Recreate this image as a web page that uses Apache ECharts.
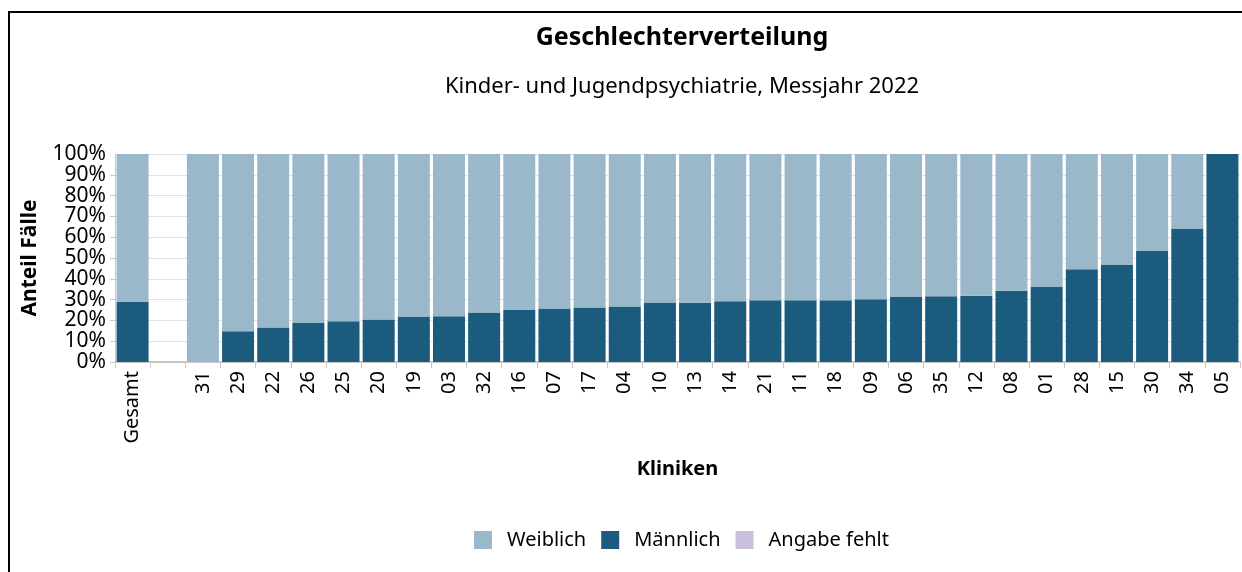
<!DOCTYPE html>
<html>
<head>
<meta charset="utf-8">
<script src="https://cdn.jsdelivr.net/npm/echarts@6/dist/echarts.min.js"></script>
<style>
html,body{margin:0;padding:0;background:#fff;}
#chart{width:1242px;height:572px;}
</style>
</head>
<body>
<div id="chart"></div>
<script>
const categories = ['Gesamt','','31','29','22','26','25','20','19','03','32','16','07','17','04','10','13','14','21','11','18','09','06','35','12','08','01','28','15','30','34','05'];
const maennlich = [28.9,null,0,14.8,16.6,18.8,19.6,20.4,21.9,22.0,23.8,25.0,25.7,26.2,26.7,28.6,28.5,29.2,29.7,29.7,29.7,30.2,31.2,31.6,31.8,34.2,36.0,44.6,46.6,53.4,64.2,100];
const weiblich  = [71.1,null,100,85.2,83.4,81.2,80.4,79.6,78.1,78.0,76.2,75.0,74.3,73.8,73.3,71.4,71.5,70.8,70.3,70.3,70.3,69.8,68.8,68.4,68.2,65.8,64.0,55.4,53.4,46.6,35.8,0];
const angabeFehlt = [0,null,0,0,0,0,0,0,0,0,0,0,0,0,0,0,0,0,0,0,0,0,0,0,0,0,0,0,0,0,0,0];
const yTicks = [0,10,20,30,40,50,60,70,80,90,100];
const yMax = 100;

const FONT = '"Noto Sans", "Open Sans", sans-serif';
const chart = echarts.init(document.getElementById('chart'), null, {renderer:'canvas'});
chart.setOption({
  animation:false,
  textStyle:{fontFamily:FONT},
  title:[
    {text:'Geschlechterverteilung', left:677, top:20, textAlign:'center',
     textStyle:{fontFamily:FONT,fontSize:25,fontWeight:'bold',color:'#000'}},
    {text:'Kinder- und Jugendpsychiatrie, Messjahr 2022', left:677, top:71, textAlign:'center',
     textStyle:{fontFamily:FONT,fontSize:22,fontWeight:'normal',color:'#000'}}
  ],
  legend:{
    bottom:17, left:469,
    itemWidth:18, itemHeight:18, itemGap:15,
    icon:'rect',
    textStyle:{fontFamily:FONT,fontSize:20,color:'#000',padding:[0,0,0,10]},
    data:['Weiblich','Männlich','Angabe fehlt']
  },
  grid:{left:115,right:2,top:154,bottom:210,containLabel:false},
  xAxis:{
    type:'category', data:categories,
    name:'Kliniken', nameLocation:'middle', nameGap:97,
    nameTextStyle:{fontFamily:FONT,fontSize:20,fontWeight:'bold',color:'#000'},
    axisLine:{lineStyle:{color:'#c8c8c8',width:2}},
    axisTick:{show:true,alignWithLabel:false,length:6,lineStyle:{color:'#c8c8c8'}},
    axisLabel:{rotate:90,interval:0,margin:9,fontFamily:FONT,fontSize:20,color:'#000',hideOverlap:false}
  },
  yAxis:[
    {
      type:'value', min:0, max:yMax, interval:10,
      name:'Anteil Fälle', nameLocation:'middle', nameGap:74, nameRotate:90,
      nameTextStyle:{fontFamily:FONT,fontSize:21,fontWeight:'bold',color:'#000'},
      axisLine:{show:true,lineStyle:{color:'#c8c8c8',width:1}},
      axisTick:{show:true,length:5,lineStyle:{color:'#c8c8c8'}},
      splitLine:{show:true,lineStyle:{color:'#e2e2e2',width:1}},
      axisLabel:{margin:9,fontFamily:FONT,fontSize:21,color:'#000',
        showMaxLabel:false,showMinLabel:true,
        formatter:function(v){return (yTicks.indexOf(v)>=0 && v!==yMax) ? v+'%' : '';}}
    },
    {
      type:'value', min:0, max:yMax, interval:10, position:'left',
      axisLine:{show:false}, axisTick:{show:false}, splitLine:{show:false},
      axisLabel:{margin:9,fontFamily:FONT,fontSize:21,color:'#000',
        showMaxLabel:true,showMinLabel:false,
        formatter:function(v){return v===yMax ? v+'%' : '';}}
    }
  ],
  series:[
    {name:'Männlich',type:'bar',stack:'s',data:maennlich,barCategoryGap:'9%',
     itemStyle:{color:'#1b5b7e'}},
    {name:'Weiblich',type:'bar',stack:'s',data:weiblich,barCategoryGap:'9%',
     itemStyle:{color:'#9ab8ca'}},
    {name:'Angabe fehlt',type:'bar',stack:'s',data:angabeFehlt,barCategoryGap:'9%',
     itemStyle:{color:'#cbc0db'}}
  ],
  graphic:[
    {type:'polyline',silent:true,z:100,
     shape:{points:[[9,572],[9,12],[1242,12]]},
     style:{stroke:'#000',lineWidth:2,fill:null}}
  ]
});
</script>
</body>
</html>
